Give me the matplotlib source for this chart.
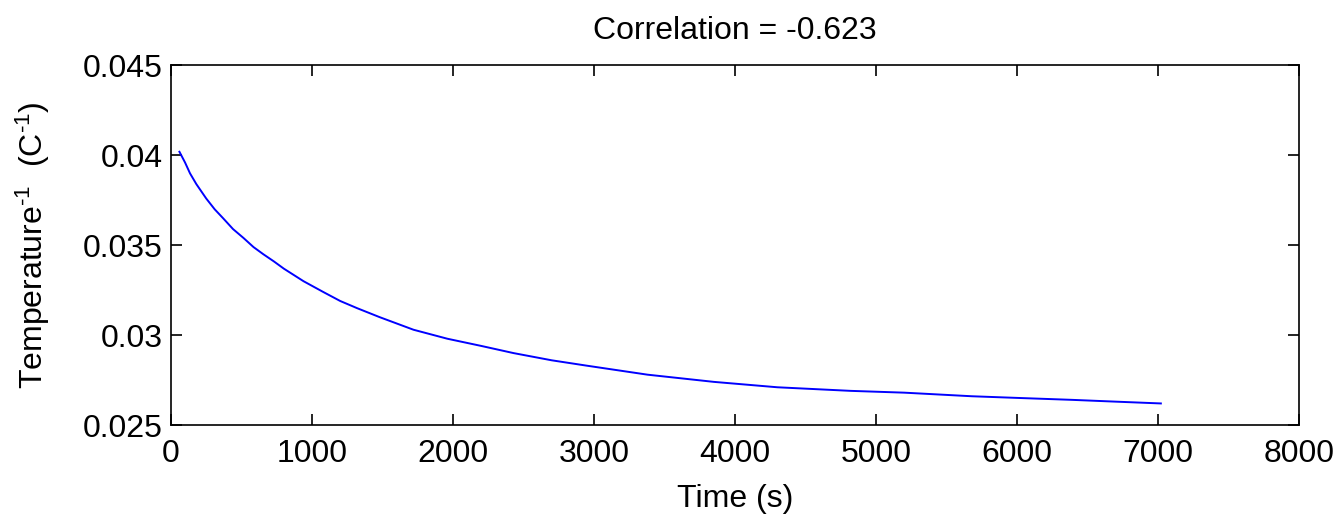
import matplotlib
matplotlib.use('Agg')
import matplotlib.pyplot as plt

# values
time_s = [60, 100, 135, 180, 250, 310, 370, 440, 515, 585, 655, 730, 800,
          940, 1080, 1200, 1320, 1480, 1720, 1960, 2200, 2430, 2700, 2950,
          3380, 3850, 4300, 4820, 5200, 5680, 6030, 6390, 6700, 7020]
inv_temp = [0.0402, 0.0396, 0.0390, 0.0384, 0.0376, 0.0370, 0.0365, 0.0359,
            0.0354, 0.0349, 0.0345, 0.0341, 0.0337, 0.0330, 0.0324, 0.0319,
            0.0315, 0.0310, 0.0303, 0.0298, 0.0294, 0.0290, 0.0286, 0.0283,
            0.0278, 0.0274, 0.0271, 0.0269, 0.0268, 0.0266, 0.0265, 0.0264,
            0.0263, 0.0262]

x_ticks = [0, 1000, 2000, 3000, 4000, 5000, 6000, 7000, 8000]
y_ticks = [0.025, 0.03, 0.035, 0.04, 0.045]
y_tick_labels = ['0.025', '0.03', '0.035', '0.04', '0.045']

plt.rcParams['font.family'] = ['Liberation Sans', 'DejaVu Sans']
plt.rcParams['mathtext.fontset'] = 'custom'
plt.rcParams['mathtext.rm'] = 'Liberation Sans'
plt.rcParams['mathtext.it'] = 'Liberation Sans'

fs = 23

fig = plt.figure(figsize=(13.42, 5.18), dpi=100)
ax = fig.add_axes([0.1274, 0.1795, 0.8406, 0.6941])

ax.plot(time_s, inv_temp, color='#0000ff', linewidth=1.4)

ax.set_xlim(0, 8000)
ax.set_ylim(0.025, 0.045)
ax.set_xticks(x_ticks)
ax.set_yticks(y_ticks)
ax.set_yticklabels(y_tick_labels)

ax.tick_params(direction='in', length=8, width=1.2, top=True, right=True,
               labelsize=fs)
ax.tick_params(axis='x', pad=10)
ax.tick_params(axis='y', pad=6)
for s in ax.spines.values():
    s.set_linewidth(1.2)

ax.set_xlabel('Time (s)', fontsize=fs, labelpad=11)
ax.set_ylabel('Temperature$^{\\text{-1}}$  (C$^{\\text{-1}}$)', fontsize=fs, labelpad=22)
ax.set_title('Correlation = -0.623', fontsize=fs, pad=19)

fig.savefig('out.png', dpi=100)
